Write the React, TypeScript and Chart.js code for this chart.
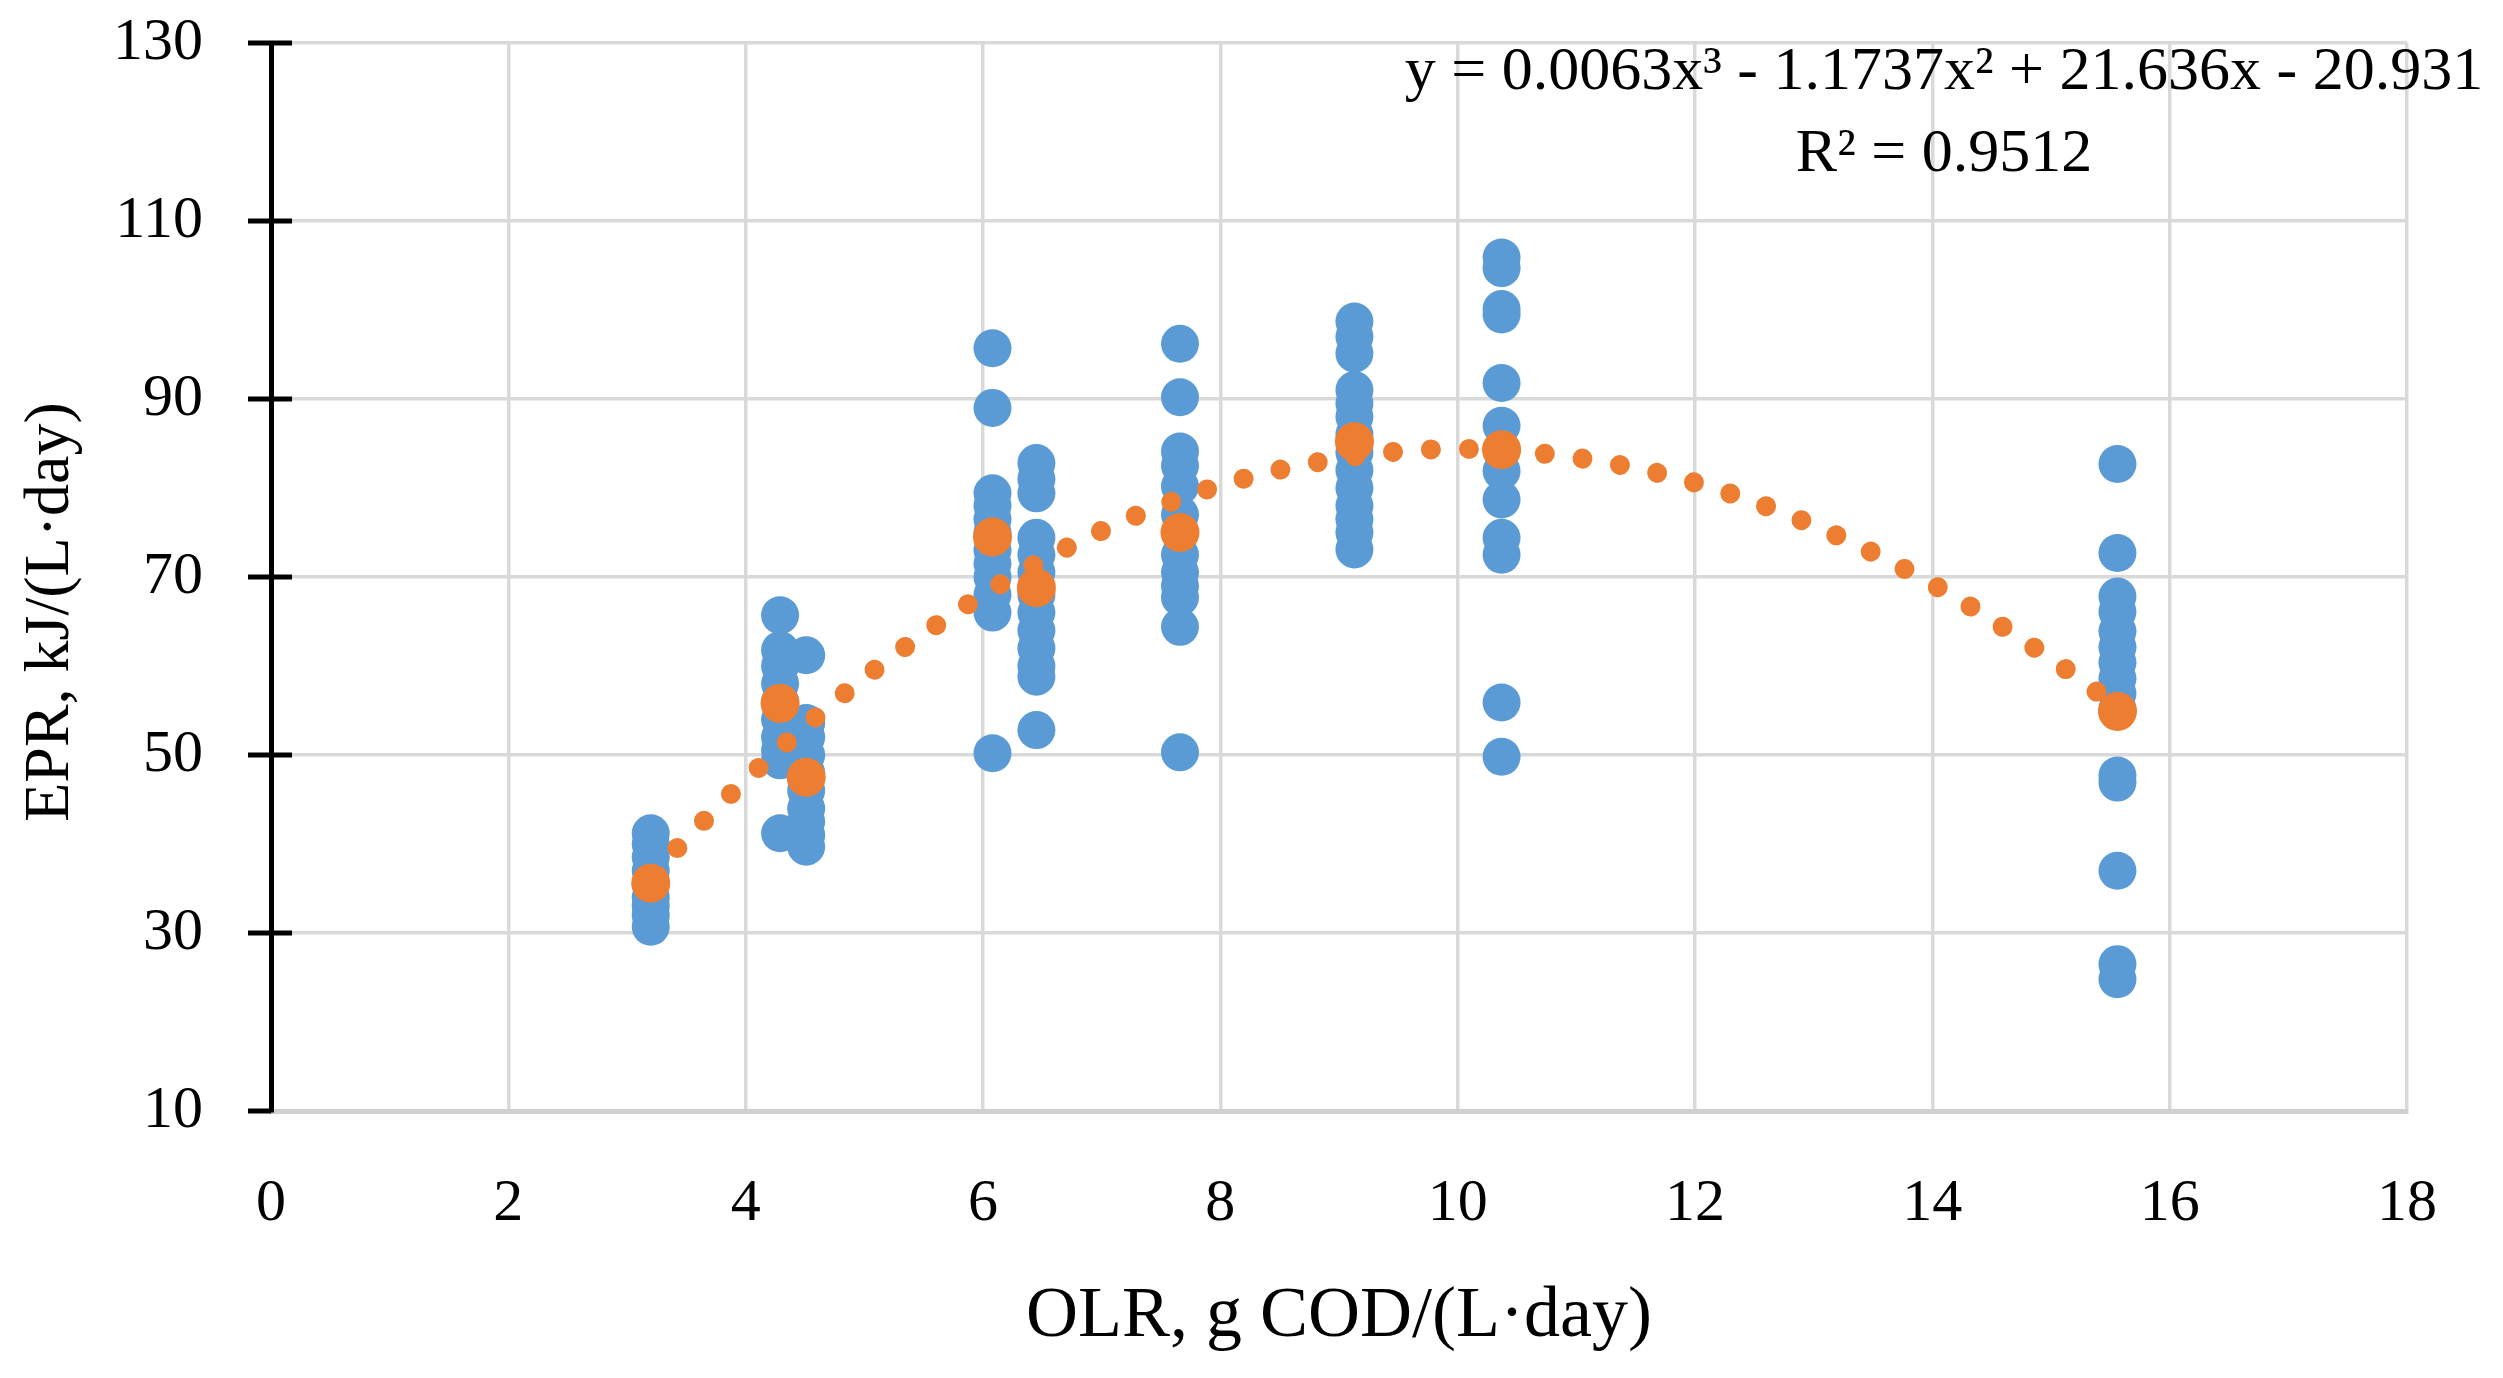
import React, { useEffect, useRef } from 'react';
import Chart from 'chart.js/auto';

// cluster positions on the OLR axis
const OLR = [3.2, 4.29, 4.51, 6.08, 6.45, 7.66, 9.13, 10.37, 15.56];

// individual EPR measurements per OLR level
const EPR_3_2 = [41.2, 40, 38.5, 37, 35.5, 34, 33, 32, 30.7];
const EPR_4_3 = [65.7, 61.8, 60, 58, 56, 54, 52, 50.5, 49.4, 41.2];
const EPR_4_5 = [61.2, 53.6, 52, 50, 48, 46, 44, 42.5, 41, 39.7];
const EPR_6_1 = [95.7, 89, 79.4, 78, 76.5, 75, 73, 71.5, 70, 68, 66, 50.2];
const EPR_6_5 = [82.8, 81, 79.4, 74.4, 72.5, 70.5, 68, 66, 64, 62, 60, 58.8, 52.8];
const EPR_7_7 = [96.2, 90.2, 84.1, 82.5, 80.2, 77, 75, 72.5, 70.5, 69, 67.7, 64.4, 50.3];
const EPR_9_1 = [98.7, 97, 95.1, 91, 89.5, 88, 86, 84, 82, 80, 78, 76.5, 75, 73.1];
const EPR_10_4 = [105.9, 104.7, 100.1, 99.5, 91.8, 87, 84.3, 81.9, 78.7, 74.4, 72.5, 55.9, 49.8];
const EPR_15_6 = [82.7, 72.7, 67.8, 66.1, 63.9, 62.1, 60.4, 58.6, 56.9, 55.2, 47.7, 46.9, 37, 26.5, 24.8];
const EPR_SETS = [EPR_3_2, EPR_4_3, EPR_4_5, EPR_6_1, EPR_6_5, EPR_7_7, EPR_9_1, EPR_10_4, EPR_15_6];

// mean EPR per level (orange)
const EPR_MEAN = [35.6, 55.8, 47.5, 74.5, 68.8, 75.0, 85.2, 84.3, 54.9];

// dotted trend line
const TREND_X = [3.2, 4, 5, 6, 7, 8, 9, 10, 11, 12, 13, 14, 15, 15.56];
const TREND_Y = [36.5, 47.2, 58.7, 68, 75.2, 80.3, 83.3, 84.4, 83.4, 80.6, 75.8, 69.2, 60.8, 55.4];

const X_TICKS = { min: 0, max: 18, step: 2 };
const Y_TICKS = { min: 10, max: 130, step: 20 };

const X_TITLE = 'OLR, g COD/(L·day)';
const Y_TITLE = 'EPR, kJ/(L·day)';
const EQUATION = 'y = 0.0063x³ - 1.1737x² + 21.636x - 20.931';
const R_SQUARED = 'R² = 0.9512';

const FONT = '"Liberation Serif", "DejaVu Serif", serif';
const BLUE = '#5b9bd5';
const ORANGE = '#ed7d31';

const overlayPlugin = {
  id: 'overlay',
  afterDraw(chart: any) {
    const { ctx, chartArea, scales } = chart;
    const y = scales.y;
    ctx.save();
    // black crossing ticks on the y axis
    ctx.strokeStyle = '#000';
    ctx.lineWidth = 5;
    y.ticks.forEach((t: any) => {
      const py = Math.round(y.getPixelForValue(t.value));
      ctx.beginPath();
      ctx.moveTo(chartArea.left - 23, py);
      ctx.lineTo(t.value === Y_TICKS.min ? chartArea.left : chartArea.left + 21, py);
      ctx.stroke();
    });

    ctx.fillStyle = '#000';
    ctx.textAlign = 'center';
    ctx.textBaseline = 'alphabetic';

    // y axis title, rotated
    ctx.save();
    ctx.font = `64px ${FONT}`;
    ctx.translate(68, (chartArea.top + chartArea.bottom) / 2 + 35);
    ctx.rotate(-Math.PI / 2);
    ctx.fillText(Y_TITLE, 0, 0);
    ctx.restore();

    // trend line equation
    ctx.font = `62px ${FONT}`;
    const cx = chart.width - 559;
    ctx.fillText(EQUATION, cx, chartArea.top + 46);
    ctx.fillText(R_SQUARED, cx, chartArea.top + 128);
    ctx.restore();
  },
};

const App: React.FC = () => {
  const canvasRef = useRef<HTMLCanvasElement>(null);
  const chartRef = useRef<Chart | null>(null);

  useEffect(() => {
    if (!canvasRef.current) return;
    if (chartRef.current) chartRef.current.destroy();

    const measured = OLR.flatMap((x, i) => EPR_SETS[i].map(v => ({ x, y: v })));
    const means = OLR.map((x, i) => ({ x, y: EPR_MEAN[i] }));
    const trend = TREND_X.map((x, i) => ({ x, y: TREND_Y[i] }));

    chartRef.current = new Chart(canvasRef.current, {
      type: 'scatter',
      data: {
        datasets: [
          {
            label: 'Mean',
            data: means,
            backgroundColor: ORANGE,
            borderWidth: 0,
            pointRadius: 19.5,
          },
          {
            type: 'line',
            label: 'Trend',
            data: trend,
            borderColor: ORANGE,
            borderWidth: 20,
            borderCapStyle: 'round',
            borderDash: [0.01, 38],
            cubicInterpolationMode: 'monotone',
            pointRadius: 0,
            fill: false,
          },
          {
            label: 'EPR',
            data: measured,
            backgroundColor: BLUE,
            borderWidth: 0,
            pointRadius: 19,
          },
        ],
      },
      options: {
        animation: false,
        responsive: true,
        maintainAspectRatio: false,
        layout: { padding: { top: 43, right: 96, left: 0, bottom: 0 } },
        plugins: {
          legend: { display: false },
          tooltip: { enabled: false },
        },
        scales: {
          x: {
            type: 'linear',
            min: X_TICKS.min,
            max: X_TICKS.max,
            afterFit: (scale: any) => { scale.height = 267; },
            ticks: {
              stepSize: X_TICKS.step,
              padding: 57,
              color: '#000',
              font: { family: FONT, size: 60 },
            },
            grid: { color: '#d9d9d9', lineWidth: 3.5, drawTicks: false },
            border: { color: '#d0d0d0', width: 5 },
            title: {
              display: true,
              text: X_TITLE,
              color: '#000',
              font: { family: FONT, size: 72 },
              padding: { top: 0, bottom: 18 },
            },
          },
          y: {
            type: 'linear',
            min: Y_TICKS.min,
            max: Y_TICKS.max,
            afterFit: (scale: any) => { scale.width = 271; },
            ticks: {
              stepSize: Y_TICKS.step,
              padding: 7,
              color: '#000',
              font: { family: FONT, size: 60 },
            },
            grid: {
              color: '#d9d9d9',
              lineWidth: 3.5,
              drawTicks: true,
              tickLength: 61,
              tickColor: 'rgba(0,0,0,0)',
            },
            border: { color: '#000', width: 5 },
            title: { display: false },
          },
        },
      },
      plugins: [overlayPlugin],
    } as any);

    return () => {
      if (chartRef.current) {
        chartRef.current.destroy();
        chartRef.current = null;
      }
    };
  }, []);

  return (
    <div style={{ position: 'fixed', left: 0, top: 0, width: '2503px', height: '1378px', background: '#fff' }}>
      <canvas ref={canvasRef}></canvas>
    </div>
  );
};

export default App;
